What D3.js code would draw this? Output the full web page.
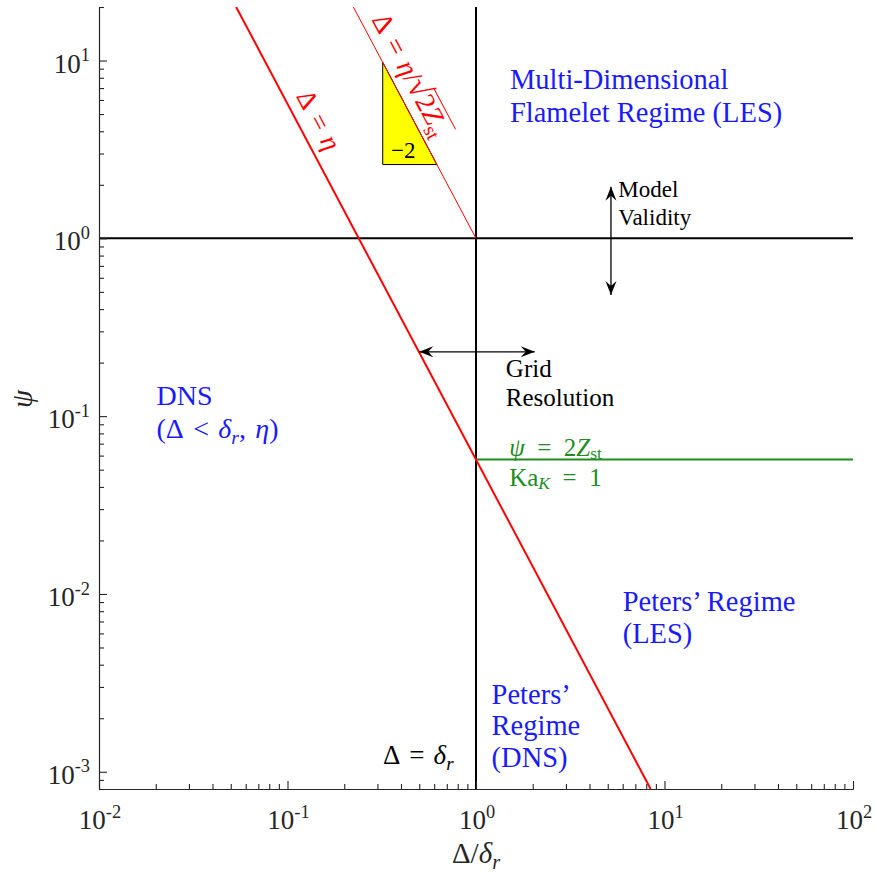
<!DOCTYPE html>
<html>
<head>
<meta charset="utf-8">
<script src="https://cdn.jsdelivr.net/npm/d3@7"></script>
<style>
  html, body { margin: 0; padding: 0; background: #fff; }
  svg text { font-family: "Liberation Serif", "DejaVu Serif", serif; }
</style>
</head>
<body>
<svg id="chart" width="876" height="874"></svg>
<script>
// ---- data -------------------------------------------------------------
const xDomain = [0.01, 100];          // Δ/δr
const yDomain = [8e-4, 20];           // ψ
const xMajorTicks = [0.01, 0.1, 1, 10, 100];
const yMajorTicks = [0.001, 0.01, 0.1, 1, 10];
const xTickExp = ["-2", "-1", "0", "1", "2"];
const yTickExp = ["-3", "-2", "-1", "0", "1"];

const psiZst = 0.057;                 // ψ = 2 Z_st  (Ka_K = 1)

// Δ = η  (slope −2 through (1, 2Z_st))
const etaX = [0.0534, 8.44];
const etaPsi = [20, 8e-4];
// Δ = η/√(2Z_st)  (slope −2 through (1, 1))
const etaSqX = [0.2236, 1];
const etaSqPsi = [20, 1];
// slope triangle
const triX = [0.32, 0.32, 0.62];
const triPsi = [9.77, 2.6, 2.6];
// boundaries
const gridX = [1, 1];        const gridPsi = [8e-4, 20];
const validX = [0.01, 100];  const validPsi = [1, 1];
const kaX = [1, 100];        const kaPsi = [psiZst, psiZst];
// double arrows
const gridArrowX = [0.5, 2.05];   const gridArrowPsi = [0.23, 0.23];
const modelArrowX = [5.2, 5.2];   const modelArrowPsi = [0.48, 1.95];

// ---- layout -----------------------------------------------------------
const svg = d3.select("#chart");
const x = d3.scaleLog().domain(xDomain).range([99, 853]);
const y = d3.scaleLog().domain(yDomain).range([789, 7]);

const axisColor = "#262626";
const blue = "#1a1aff", green = "#1e8c1e", red = "#ff0000";
const serif = "'Liberation Serif', 'DejaVu Serif', serif";

function minors(domain) {
  const out = [];
  for (let e = -4; e <= 2; e++) for (let m = 2; m <= 9; m++) {
    const v = m * Math.pow(10, e);
    if (v >= domain[0] * 0.999 && v <= domain[1] * 1.001) out.push(v);
  }
  return out;
}

// multi-line rich text in one <text>: lines of segments {t, i, sub, sup, big}
function richLines(parent, px, py, lines, size, color, lineHeight, anchor, subDrop) {
  const drop = subDrop === undefined ? 0.22 : subDrop;
  const t = parent.append("text")
    .attr("x", px).attr("y", py)
    .attr("font-family", serif)
    .attr("font-size", size).attr("fill", color)
    .attr("text-anchor", anchor || "start");
  let shift = 0;
  lines.forEach((segs, li) => {
    segs.forEach((s, si) => {
      const ts = t.append("tspan").text(s.t);
      if (s.i) ts.attr("font-style", "italic");
      if (s.big) ts.attr("font-size", size * s.big);
      let target = 0;
      if (s.sub) { target = size * drop; ts.attr("font-size", size * 0.7); }
      if (s.sup) { target = -size * 0.42; ts.attr("font-size", size * 0.68); }
      let dy = target - shift;
      if (li > 0 && si === 0) { ts.attr("x", px); dy += lineHeight; }
      if (dy !== 0) ts.attr("dy", dy);
      shift = target;
    });
  });
  return t;
}
const rich = (parent, px, py, segs, size, color, anchor) =>
  richLines(parent, px, py, [segs], size, color, 0, anchor);

const plot = svg.append("g");
svg.append("clipPath").attr("id", "clip").append("rect")
  .attr("x", 99).attr("y", 7).attr("width", 754).attr("height", 782);
const clipped = plot.append("g").attr("clip-path", "url(#clip)");

const line = d3.line().x(d => x(d[0])).y(d => y(d[1]));
const zip = (a, b) => a.map((v, i) => [v, b[i]]);

// slope triangle
clipped.append("path")
  .attr("d", line(zip(triX, triPsi)) + "Z")
  .attr("fill", "#ffff00").attr("stroke", "#000").attr("stroke-width", 1);

// boundary lines
clipped.append("path").attr("d", line(zip(validX, validPsi)))
  .attr("stroke", "#000").attr("stroke-width", 2).attr("fill", "none");
clipped.append("path").attr("d", line(zip(gridX, gridPsi)))
  .attr("stroke", "#000").attr("stroke-width", 2).attr("fill", "none");
clipped.append("path").attr("d", line(zip(kaX, kaPsi)))
  .attr("stroke", green).attr("stroke-width", 2).attr("fill", "none");
clipped.append("path").attr("d", line(zip(etaSqX, etaSqPsi)))
  .attr("stroke", red).attr("stroke-width", 1).attr("fill", "none");
clipped.append("path").attr("d", line(zip(etaX, etaPsi)))
  .attr("stroke", red).attr("stroke-width", 2).attr("fill", "none");

// double arrows
function arrowHead(g, tip, from) {
  const dx = tip[0] - from[0], dy = tip[1] - from[1];
  const L = Math.hypot(dx, dy), ux = dx / L, uy = dy / L;
  const len = 14, hw = 5.5, notch = 9;
  const bx = tip[0] - ux * len, by = tip[1] - uy * len;
  const nx = tip[0] - ux * notch, ny = tip[1] - uy * notch;
  g.append("path")
    .attr("d", `M${tip[0]},${tip[1]}L${bx - uy * hw},${by + ux * hw}L${nx},${ny}L${bx + uy * hw},${by - ux * hw}Z`)
    .attr("fill", "#000");
}
function doubleArrow(xs, ps) {
  const a = [x(xs[0]), y(ps[0])], b = [x(xs[1]), y(ps[1])];
  const g = plot.append("g");
  g.append("line").attr("x1", a[0]).attr("y1", a[1]).attr("x2", b[0]).attr("y2", b[1])
    .attr("stroke", "#000").attr("stroke-width", 1.3);
  arrowHead(g, a, b);
  arrowHead(g, b, a);
}
doubleArrow(gridArrowX, gridArrowPsi);
doubleArrow(modelArrowX, modelArrowPsi);

// ---- axes -------------------------------------------------------------
const xAxisG = svg.append("g").attr("transform", "translate(0,789)");
xAxisG.call(d3.axisBottom(x).tickValues(minors(xDomain)).tickSize(-5).tickSizeOuter(0).tickFormat(""));
const xMaj = svg.append("g").attr("transform", "translate(0,789)");
xMaj.call(d3.axisBottom(x).tickValues(xMajorTicks).tickSize(-8).tickSizeOuter(0).tickFormat(""));
const yAxisG = svg.append("g").attr("transform", "translate(99,0)");
yAxisG.call(d3.axisLeft(y).tickValues(minors(yDomain)).tickSize(-5).tickSizeOuter(0).tickFormat(""));
const yMaj = svg.append("g").attr("transform", "translate(99,0)");
yMaj.call(d3.axisLeft(y).tickValues(yMajorTicks).tickSize(-8).tickSizeOuter(0).tickFormat(""));
[xAxisG, xMaj, yAxisG, yMaj].forEach(g => {
  g.selectAll("path, line").attr("stroke", axisColor).attr("stroke-width", 1.1);
});

// tick labels
xMajorTicks.forEach((v, i) => {
  rich(svg, x(v) + 1, 829, [{ t: "10" }, { t: xTickExp[i], sup: true }], 27, axisColor, "middle");
});
yMajorTicks.forEach((v, i) => {
  rich(svg, 90, y(v) + 12, [{ t: "10" }, { t: yTickExp[i], sup: true }], 27, axisColor, "end");
});

// axis titles
rich(svg, x(1), 863, [{ t: "Δ/" }, { t: "δ", i: true }, { t: "r", i: true, sub: true }], 29, axisColor, "middle");
rich(svg.append("g").attr("transform", "translate(32,399) rotate(-90)"), 0, 0,
  [{ t: "ψ", i: true }], 29, axisColor, "middle");

// ---- annotations ------------------------------------------------------
const sp = "\u2004", wsp = "\u2002";
richLines(plot, x(1.514), y(6.9),
  [[{ t: "Multi-Dimensional" }], [{ t: "Flamelet Regime (LES)" }]], 28.5, blue, 33);

richLines(plot, x(0.0202), y(0.1158),
  [[{ t: "DNS" }],
   [{ t: "(Δ" + sp + "<" + sp }, { t: "δ", i: true }, { t: "r", i: true, sub: true }, { t: "," + sp }, { t: "η", i: true }, { t: ")" }]],
  28, blue, 33);

richLines(plot, x(6.0), y(0.00798),
  [[{ t: "Peters’ Regime" }], [{ t: "(LES)" }]], 28.5, blue, 31.5);

richLines(plot, x(1.21), y(0.00242),
  [[{ t: "Peters’" }], [{ t: "Regime" }], [{ t: "(DNS)" }]], 28.5, blue, 31.5);

rich(plot, x(0.321), y(0.00111), [{ t: "Δ" + sp + "=" + sp }, { t: "δ", i: true }, { t: "r", i: true, sub: true }], 27, "#000");

richLines(plot, x(5.69), y(1.70), [[{ t: "Model" }], [{ t: "Validity" }]], 23, "#000", 28);

richLines(plot, x(1.44), y(0.165), [[{ t: "Grid" }], [{ t: "Resolution" }]], 25, "#000", 28.5);

richLines(plot, x(1.50), y(0.0589) - 1.5,
  [[{ t: "ψ", i: true }, { t: wsp + "=" + wsp + "2" }, { t: "Z", i: true }, { t: "st", sub: true }],
   [{ t: "Ka" }, { t: "K", i: true, sub: true }, { t: wsp + "=" + wsp + "1" }]],
  25, green, 30, "start", 0.15);

rich(plot, x(0.354), y(2.83), [{ t: "−2" }], 23, "#000");

// labels running along the red lines
function angleOf(xs, ps) {
  return Math.atan2(y(ps[1]) - y(ps[0]), x(xs[1]) - x(xs[0])) * 180 / Math.PI;
}
const ang = angleOf(etaX, etaPsi);

const g1 = plot.append("g")
  .attr("transform", `translate(${x(Math.sqrt(psiZst / 5.9))},${y(5.9)}) rotate(${ang})`);
rich(g1, 0, -11, [{ t: "Δ" + sp + "=" + sp }, { t: "η", i: true }], 27, red);

const lblSize = 28;
const g2 = plot.append("g")
  .attr("transform", `translate(${x(1 / Math.sqrt(16))},${y(16)}) rotate(${ang})`);
const lbl2 = rich(g2, 0, -10,
  [{ t: "Δ" + sp + "=" + sp }, { t: "η", i: true }, { t: "/" }, { t: "√", big: 1.15 }, { t: "2" }, { t: "Z", i: true }, { t: "st", sub: true }],
  lblSize, red);
// radical bar over 2Z_st
const node = lbl2.node();
const startIdx = node.textContent.indexOf("√") + 1;
const bx0 = node.getSubStringLength(0, startIdx);
const bx1 = node.getComputedTextLength();
g2.append("line").attr("x1", bx0 - 1.5).attr("x2", bx1 + 2)
  .attr("y1", -10 - lblSize * 0.82).attr("y2", -10 - lblSize * 0.82)
  .attr("stroke", red).attr("stroke-width", 1);
</script>
</body>
</html>
